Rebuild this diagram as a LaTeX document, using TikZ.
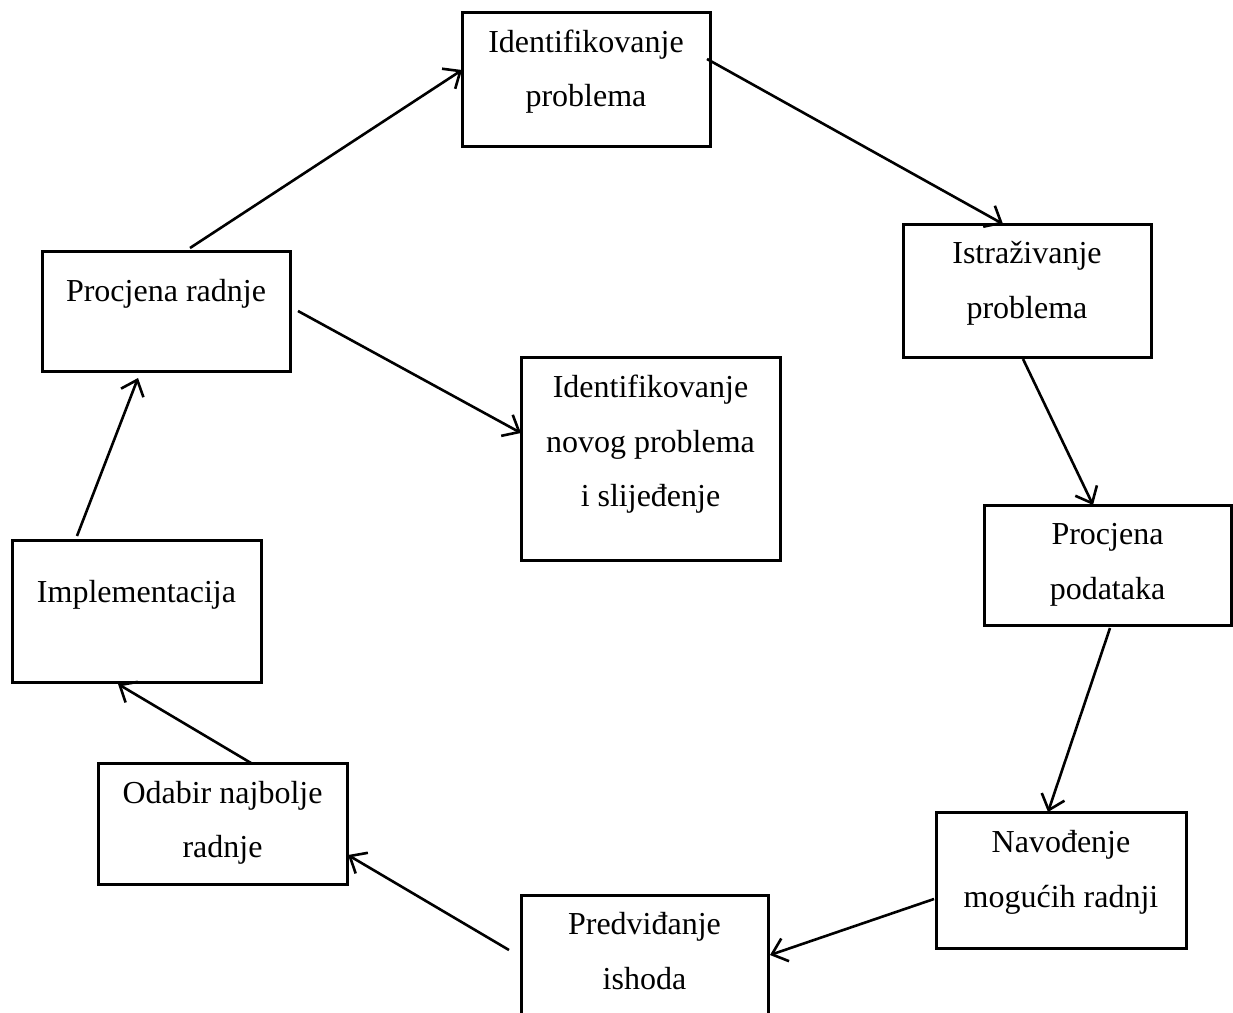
\documentclass[tikz,border=0pt]{standalone}
\usepackage{fontspec}
\setmainfont{Liberation Serif}
\usetikzlibrary{arrows.meta, positioning, calc}

% extra depth under the last line of a box
\newcommand{\spust}[1]{\rule[-#1]{0pt}{#1}}

\begin{document}
\begin{tikzpicture}[x=1pt, y=-1pt,
    kutija/.style={draw, line width=3pt, rectangle, align=center, inner sep=0pt, outer sep=0pt,
                   font=\fontsize{32}{54.5}\selectfont},
    veza/.style={line width=2.6pt, -{Straight Barb[length=14pt, width=24pt]}}]

\clip (0,0) rectangle (1233,1012);
\fill[white] (0,0) rectangle (1233,1012);

% --- BOXES (clockwise, from the top) ---
\node[kutija, minimum width=248pt, minimum height=134pt] (b1) at (586,79)
    {Identifikovanje\\problema\spust{22pt}};
\node[kutija, minimum width=248pt, minimum height=133pt] (b2) at (1027,290.5)
    {Istraživanje\\problema\spust{21pt}};
\node[kutija, minimum width=247pt, minimum height=120pt] (b3) at (1107.5,565)
    {Procjena\\podataka\spust{7pt}};
\node[kutija, minimum width=250pt, minimum height=136pt] (b4) at (1061,880)
    {Navođenje\\mogućih radnji\spust{22pt}};
\node[kutija, minimum width=247pt, minimum height=134pt] (b5) at (644.5,962)
    {Predviđanje\\ishoda\spust{22pt}};
\node[kutija, minimum width=249pt, minimum height=121pt] (b6) at (222.5,823.5)
    {Odabir najbolje\\radnje\spust{8pt}};
\node[kutija, minimum width=249pt, minimum height=142pt] (b7) at (136.5,611)
    {Implementacija\spust{40pt}};
\node[kutija, minimum width=248pt, minimum height=120pt] (b8) at (166,311)
    {Procjena radnje\spust{42pt}};
\node[kutija, minimum width=259pt, minimum height=203pt] (b9) at (650.5,458.5)
    {Identifikovanje\\novog problema\\i slijeđenje\spust{35pt}};

% --- ARROWS ---
\draw[veza] ([xshift=24pt,yshift=3pt]b8.north) -- ([yshift=9pt]b1.west);
\draw[veza] ([xshift=-3pt,yshift=20pt]b1.east) -- ([xshift=-24pt]b2.north);
\draw[veza] ([xshift=-4pt,yshift=-2pt]b2.south) -- ([xshift=-14.5pt]b3.north);
\draw[veza] ([xshift=2.5pt,yshift=-3pt]b3.south) -- ([xshift=-13pt]b4.north);
\draw[veza] ([xshift=-2pt,yshift=-19pt]b4.west) -- ([xshift=2pt,yshift=7pt]b5.east);
\draw[veza] ([xshift=-12pt,yshift=12pt]b5.west) -- ([xshift=1pt,yshift=-31.5pt]b6.east);
\draw[veza] ([xshift=28.5pt]b6.north) -- ([xshift=-18.5pt,yshift=-2pt]b7.south);
\draw[veza] ([xshift=-59.5pt,yshift=4pt]b7.north) -- ([xshift=-28pt,yshift=-7pt]b8.south);
\draw[veza] ([xshift=8pt]b8.east) -- ([yshift=25.5pt]b9.west);

\end{tikzpicture}
\end{document}
